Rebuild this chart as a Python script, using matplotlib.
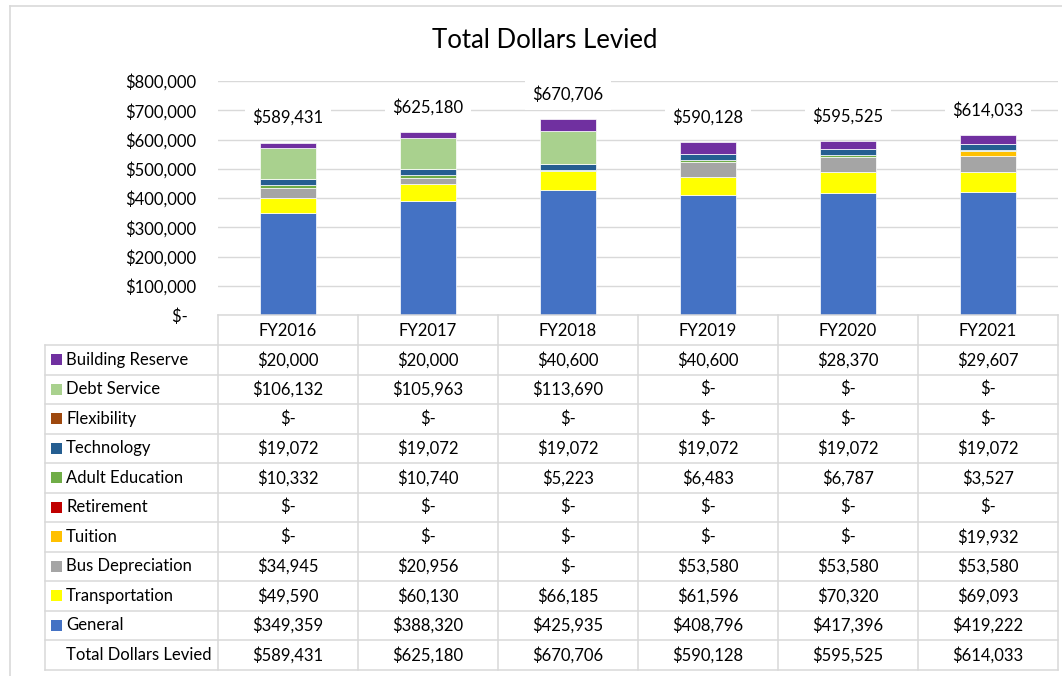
import matplotlib.pyplot as plt
import numpy as np
from matplotlib.patches import Rectangle

plt.rcParams["font.family"] = ["Lato", "DejaVu Sans"]

YEARS = ["FY2016", "FY2017", "FY2018", "FY2019", "FY2020", "FY2021"]

# stacking order, bottom to top
SERIES = [
    "General",
    "Transportation",
    "Bus Depreciation",
    "Tuition",
    "Retirement",
    "Adult Education",
    "Technology",
    "Flexibility",
    "Debt Service",
    "Building Reserve",
]
general = [349359, 388320, 425935, 408796, 417396, 419222]
transportation = [49590, 60130, 66185, 61596, 70320, 69093]
bus_depreciation = [34945, 20956, 0, 53580, 53580, 53580]
tuition = [0, 0, 0, 0, 0, 19932]
retirement = [0, 0, 0, 0, 0, 0]
adult_education = [10332, 10740, 5223, 6483, 6787, 3527]
technology = [19072, 19072, 19072, 19072, 19072, 19072]
flexibility = [0, 0, 0, 0, 0, 0]
debt_service = [106132, 105963, 113690, 0, 0, 0]
building_reserve = [20000, 20000, 40600, 40600, 28370, 29607]
totals = [589431, 625180, 670706, 590128, 595525, 614033]

VALUES = [general, transportation, bus_depreciation, tuition, retirement,
          adult_education, technology, flexibility, debt_service, building_reserve]
COLORS = ["#4472C4", "#FFFF00", "#A5A5A5", "#FFC000", "#C00000",
          "#70AD47", "#255E91", "#9E480E", "#A9D18E", "#7030A0"]

Y_TICKS = [0, 100000, 200000, 300000, 400000, 500000, 600000, 700000, 800000]

W, H = 1062, 676
GRID = "#d9d9d9"
FS = 12


def money(v):
    return "$-" if v == 0 else f"${v:,.0f}"


fig = plt.figure(figsize=(W / 100, H / 100), dpi=100)

# plot area in pixels
px_left, px_right, px_top, px_base = 218, 1058, 81, 315
ax = fig.add_axes([px_left / W, 1 - px_base / H,
                   (px_right - px_left) / W, (px_base - px_top) / H])

x = np.arange(len(YEARS))
bottom = np.zeros(len(YEARS))
for name, vals, col in zip(SERIES, VALUES, COLORS):
    ax.bar(x, vals, width=0.4, bottom=bottom, color=col,
           edgecolor="white", linewidth=0.5, zorder=2)
    bottom += np.array(vals)

for xi, t in zip(x, totals):
    ax.annotate(money(t), (xi, t), xytext=(0, 18), textcoords="offset points",
                ha="center", va="center", fontsize=FS, zorder=4,
                bbox=dict(boxstyle="square,pad=0.45", fc="white", ec="none"))

ax.set_xlim(-0.5, len(YEARS) - 0.5)
ax.set_ylim(0, 800000)
ax.set_yticks(Y_TICKS)
ax.set_yticklabels([money(v) + ("  " if v == 0 else "") for v in Y_TICKS],
                   fontsize=FS)
ax.tick_params(axis="y", length=0, pad=16)
ax.set_xticks([])
ax.yaxis.grid(True, color=GRID, linewidth=1.0, zorder=0)
ax.set_axisbelow(True)
for s in ax.spines.values():
    s.set_visible(False)

# overlay in pixel coordinates for the title, data table and chart border
ov = fig.add_axes([0, 0, 1, 1], facecolor="none")
ov.set_xlim(0, W)
ov.set_ylim(H, 0)
ov.axis("off")

ov.plot([10, W], [6, 6], color=GRID, lw=1.2)
ov.plot([10, 10], [6, H], color=GRID, lw=1.2)

ov.text(545, 40, "Total Dollars Levied", ha="center", va="center", fontsize=18.5)

col_w = (px_right - px_left) / len(YEARS)
label_left = 45
head_top, rows_top, row_h = 315, 345, 29.5

table_rows = list(zip(SERIES, VALUES, COLORS))[::-1]
n_rows = len(table_rows) + 1
table_bottom = rows_top + n_rows * row_h

# grid lines
ov.plot([px_left, px_right], [head_top, head_top], color=GRID, lw=1.1)
for i in range(n_rows + 1):
    y = rows_top + i * row_h
    ov.plot([label_left, px_right], [y, y], color=GRID, lw=1.1)
ov.plot([label_left, label_left], [rows_top, table_bottom], color=GRID, lw=1.1)
for j in range(len(YEARS) + 1):
    xv = px_left + j * col_w
    ov.plot([xv, xv], [head_top, table_bottom], color=GRID, lw=1.1)

for j, yr in enumerate(YEARS):
    ov.text(px_left + (j + 0.5) * col_w, head_top + 15.5, yr,
            ha="center", va="center", fontsize=FS)

for i, (name, vals, col) in enumerate(table_rows):
    yc = rows_top + (i + 0.5) * row_h
    ov.add_patch(Rectangle((51, yc - 5.5), 11, 11, color=col, lw=0))
    ov.text(66, yc, name, ha="left", va="center", fontsize=FS)
    for j, v in enumerate(vals):
        ov.text(px_left + (j + 0.5) * col_w, yc, money(v),
                ha="center", va="center", fontsize=FS)

yc = rows_top + (n_rows - 0.5) * row_h
ov.text(66, yc, "Total Dollars Levied", ha="left", va="center", fontsize=FS)
for j, v in enumerate(totals):
    ov.text(px_left + (j + 0.5) * col_w, yc, money(v),
            ha="center", va="center", fontsize=FS)

fig.savefig("out.png", dpi=100)
